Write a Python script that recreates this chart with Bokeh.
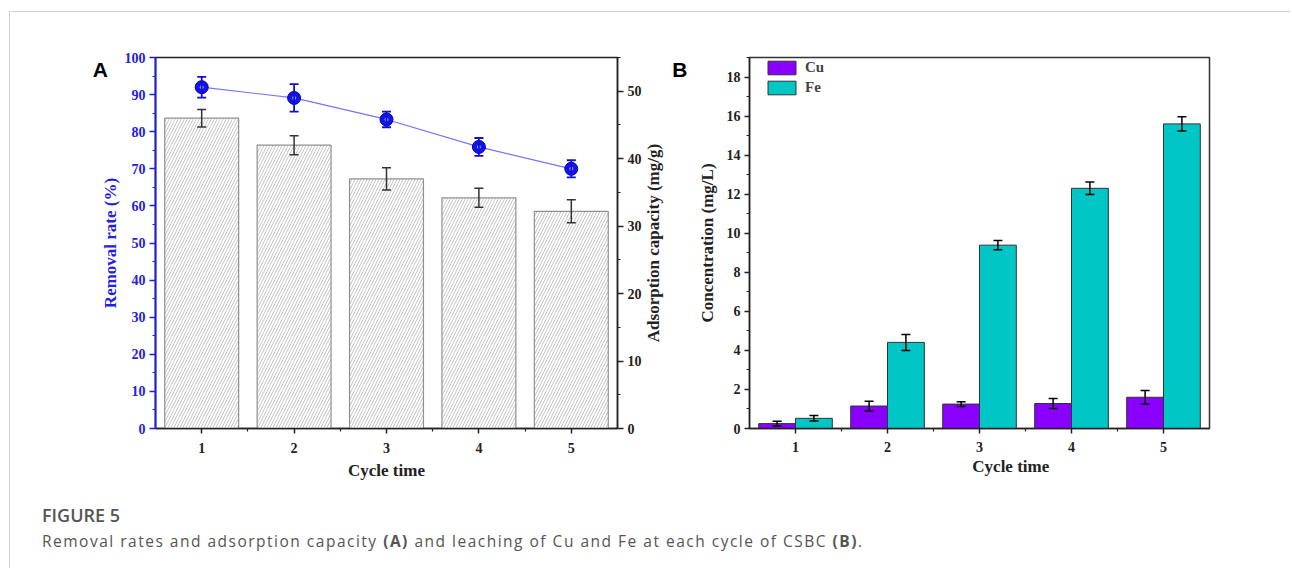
import math
from bokeh.plotting import figure
from bokeh.models import (Range1d, LinearAxis, Whisker, TeeHead, ColumnDataSource, Div,
                          FixedTicker, SingleIntervalTicker, Label, Legend, LegendItem)
from bokeh.layouts import column, row
from bokeh.transform import dodge
from bokeh.embed import file_html
from bokeh.resources import INLINE

# ---------------- data ----------------
cycles = [1, 2, 3, 4, 5]
cycle_labels = ["1", "2", "3", "4", "5"]
removal_rate = [92.0, 89.1, 83.3, 75.9, 70.0]      # % (left axis, points)
removal_err = [2.8, 3.7, 2.1, 2.4, 2.3]
capacity = [46.0, 42.0, 37.0, 34.2, 32.2]          # mg/g (right axis, bars)
capacity_err = [1.3, 1.4, 1.65, 1.4, 1.7]
cu_conc = [0.25, 1.15, 1.25, 1.28, 1.60]           # mg/L
cu_err = [0.12, 0.25, 0.12, 0.26, 0.34]
fe_conc = [0.52, 4.41, 9.39, 12.30, 15.60]         # mg/L
fe_err = [0.14, 0.41, 0.24, 0.32, 0.36]

SERIF = "Liberation Serif"
SANS = "Liberation Sans"
BLUE = "#2222dd"
DARK = "#222222"
CU_COLOR = "#8a00ff"
FE_COLOR = "#00c6c6"


def style_axis(ax, color, size):
    ax.axis_line_color = color
    ax.axis_line_width = 1.5
    ax.major_tick_line_color = color
    ax.minor_tick_line_color = color
    ax.major_tick_line_width = 1.5
    ax.minor_tick_line_width = 1.2
    ax.major_tick_in = 0
    ax.major_tick_out = 6
    ax.minor_tick_in = 0
    ax.minor_tick_out = 3
    ax.major_label_text_font = SERIF
    ax.major_label_text_font_style = "bold"
    ax.major_label_text_font_size = size
    ax.major_label_text_color = color
    ax.axis_label_text_font = SERIF
    ax.axis_label_text_font_style = "bold"
    ax.axis_label_text_font_size = "17px"
    ax.axis_label_text_color = color


def text_label(text, x, y, size, font=SERIF, angle=0.0, align="center", baseline="middle",
               color=DARK):
    return Label(x=x, y=y, x_units="data", y_units="data", text=text, angle=angle,
                 text_align=align, text_baseline=baseline, text_font=font,
                 text_font_style="bold", text_font_size=size, text_color=color)


# ---------------- panel A ----------------
srcA = ColumnDataSource(dict(
    x=cycles,
    rr=removal_rate,
    rr_lo=[v - e for v, e in zip(removal_rate, removal_err)],
    rr_hi=[v + e for v, e in zip(removal_rate, removal_err)],
    cap=capacity,
    cap_lo=[v - e for v, e in zip(capacity, capacity_err)],
    cap_hi=[v + e for v, e in zip(capacity, capacity_err)],
))

pA = figure(width=660, height=478, x_range=Range1d(0.5, 5.5), y_range=Range1d(0, 100),
            output_backend="svg", toolbar_location=None,
            min_border_left=145, min_border_right=53, min_border_top=45, min_border_bottom=61)
pA.extra_y_ranges = {"cap": Range1d(0, 55)}
pA.grid.visible = False
pA.outline_line_color = DARK
pA.outline_line_width = 1.5

pA.vbar(x="x", top="cap", width=0.8, source=srcA, y_range_name="cap",
        fill_color="white", line_color="#909090", line_width=1.2,
        hatch_pattern="/", hatch_color="#b0b0b0", hatch_scale=6, hatch_weight=0.7)
pA.add_layout(Whisker(base="x", upper="cap_hi", lower="cap_lo", source=srcA, y_range_name="cap",
                      line_color="#333333", line_width=1.5, level="overlay",
                      upper_head=TeeHead(size=9, line_color="#333333", line_width=1.5),
                      lower_head=TeeHead(size=9, line_color="#333333", line_width=1.5)))

pA.line("x", "rr", source=srcA, line_color="#7474ff", line_width=1.2)
pA.add_layout(Whisker(base="x", upper="rr_hi", lower="rr_lo", source=srcA,
                      line_color="#1010d0", line_width=1.8, level="overlay",
                      upper_head=TeeHead(size=9, line_color="#1010d0", line_width=1.8),
                      lower_head=TeeHead(size=9, line_color="#1010d0", line_width=1.8)))
pA.scatter("x", "rr", source=srcA, size=13, fill_color="#1414e6", line_color="#0000b0",
           line_width=1, level="overlay")
pA.scatter("x", "rr", source=srcA, size=4, fill_color="#9a9aff", line_color=None, level="overlay")

axA_x = pA.xaxis[0]
axA_x.ticker = FixedTicker(ticks=cycles, minor_ticks=[1.5, 2.5, 3.5, 4.5])
axA_x.major_label_overrides = {c: l for c, l in zip(cycles, cycle_labels)}
style_axis(axA_x, DARK, "14px")
axA_x.major_tick_out = 5
axA_x.major_label_standoff = 9
axA_x.axis_label = "Cycle time"
axA_x.axis_label_standoff = 5

axA_y = pA.yaxis[0]
axA_y.ticker = SingleIntervalTicker(interval=10, num_minor_ticks=2)
style_axis(axA_y, BLUE, "14px")
axA_y.axis_line_width = 2
axA_y.major_label_standoff = 4
axA_y.axis_label = "Removal rate (%)"
axA_y.axis_label_standoff = 2

axA_r = LinearAxis(y_range_name="cap", ticker=SingleIntervalTicker(interval=10, num_minor_ticks=2))
style_axis(axA_r, DARK, "14px")
axA_r.major_label_standoff = 4
pA.add_layout(axA_r, "right")

pA.add_layout(text_label("Adsorption capacity (mg/g)", 5.89, 50, "17px", angle=math.pi / 2),
              "right")
pA.add_layout(text_label("A", -0.18, 96.8, "21px", font=SANS, align="left",
                         baseline="alphabetic", color="black"), "above")

# ---------------- panel B ----------------
srcB = ColumnDataSource(dict(
    x=cycles,
    cu=cu_conc,
    cu_lo=[v - e for v, e in zip(cu_conc, cu_err)],
    cu_hi=[v + e for v, e in zip(cu_conc, cu_err)],
    fe=fe_conc,
    fe_lo=[v - e for v, e in zip(fe_conc, fe_err)],
    fe_hi=[v + e for v, e in zip(fe_conc, fe_err)],
))

pB = figure(width=620, height=478, x_range=Range1d(0.5, 5.5), y_range=Range1d(0, 19),
            output_backend="svg", toolbar_location=None,
            min_border_left=79, min_border_right=81, min_border_top=45, min_border_bottom=62)
pB.grid.visible = False
pB.outline_line_color = "#333333"
pB.outline_line_width = 1.5

r_cu = pB.vbar(x=dodge("x", -0.2, range=pB.x_range), top="cu", width=0.4, source=srcB,
               fill_color=CU_COLOR, line_color="#333333", line_width=1)
r_fe = pB.vbar(x=dodge("x", 0.2, range=pB.x_range), top="fe", width=0.4, source=srcB,
               fill_color=FE_COLOR, line_color="#333333", line_width=1)
for off, up, lo in [(-0.2, "cu_hi", "cu_lo"), (0.2, "fe_hi", "fe_lo")]:
    pB.add_layout(Whisker(base=dodge("x", off, range=pB.x_range), upper=up, lower=lo, source=srcB,
                          line_color="black", line_width=1.5, level="overlay",
                          upper_head=TeeHead(size=9, line_color="black", line_width=1.5),
                          lower_head=TeeHead(size=9, line_color="black", line_width=1.5)))

axB_x = pB.xaxis[0]
axB_x.ticker = FixedTicker(ticks=cycles, minor_ticks=[1.5, 2.5, 3.5, 4.5])
axB_x.major_label_overrides = {c: l for c, l in zip(cycles, cycle_labels)}
style_axis(axB_x, DARK, "14px")
axB_x.major_tick_out = 5
axB_x.major_label_standoff = 8

axB_y = pB.yaxis[0]
axB_y.ticker = SingleIntervalTicker(interval=2, num_minor_ticks=2)
style_axis(axB_y, DARK, "14px")
axB_y.major_tick_out = 5
axB_y.major_label_standoff = 4
axB_y.axis_label = "Concentration (mg/L)"
axB_y.axis_label_standoff = 7

pB.add_layout(text_label("Cycle time", 3.34, -1.95, "17px"), "below")
pB.add_layout(text_label("B", -0.34, 18.38, "21px", font=SANS, align="left",
                         baseline="alphabetic", color="black"), "above")

legend = Legend(items=[LegendItem(label="Cu", renderers=[r_cu]),
                       LegendItem(label="Fe", renderers=[r_fe])],
                location=(15, 332), orientation="vertical",
                glyph_width=35, glyph_height=17, label_height=17, spacing=3,
                padding=0, margin=0, label_standoff=6,
                border_line_color=None, background_fill_alpha=0,
                label_text_font=SERIF, label_text_font_style="bold", label_text_font_size="15px")
pB.add_layout(legend)

# ---------------- caption ----------------
caption = Div(
    text=("<div style=\"font-family:'Open Sans',sans-serif;padding:11px 0 0 27px;\">"
          "<div style='font-size:18px;line-height:18px;font-weight:600;color:#555;'>FIGURE 5</div>"
          "<div style='font-size:15.5px;line-height:34px;color:#555;letter-spacing:1.5px;"
          "white-space:nowrap;'>Removal rates and adsorption capacity "
          "<b>(A)</b> and leaching of Cu and Fe at each cycle of CSBC <b>(B)</b>.</div></div>"),
    width=1270, height=68)

layout = column(row(pA, pB), caption, margin=(11, 0, 0, 9),
                styles={"border-top": "1px solid #d0d0d0", "border-left": "1px solid #d0d0d0"})

with open("out.html", "w") as f:
    f.write(file_html(layout, INLINE))
